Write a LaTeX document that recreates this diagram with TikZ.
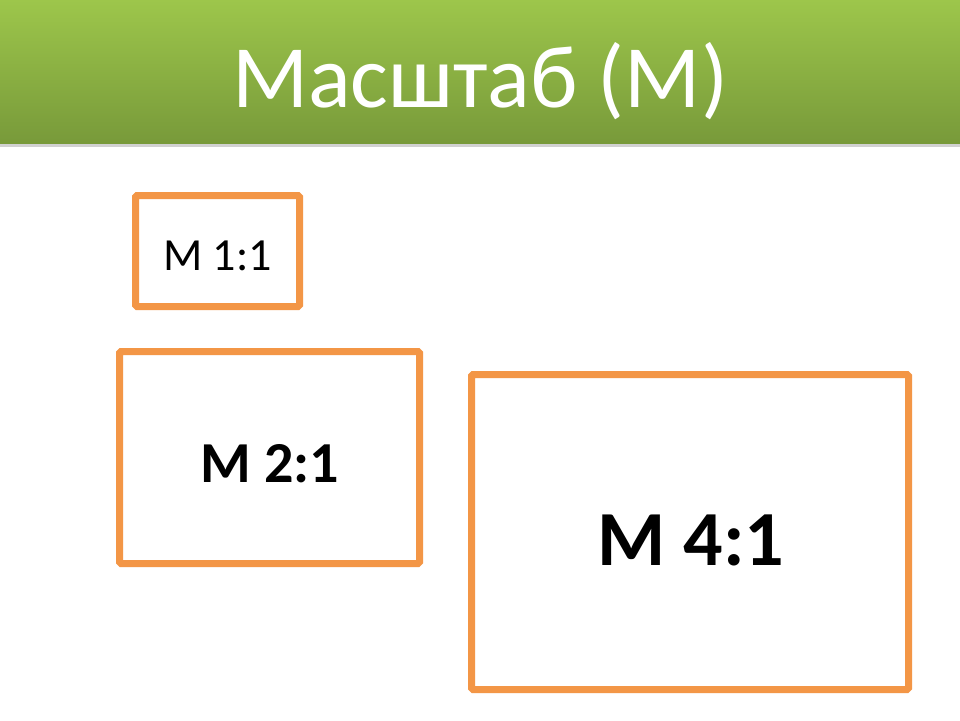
\documentclass[tikz,border=0pt]{standalone}
\usepackage{fontspec}
\setmainfont{Carlito}
\definecolor{barTop}{HTML}{9DC64B}
\definecolor{barBot}{HTML}{789A3A}
\definecolor{frameOrange}{HTML}{F39646}
\begin{document}
\begin{tikzpicture}[x=1pt,y=-1pt,
  frame/.style={draw=frameOrange,line width=7pt,rounded corners=1.5pt},
  lbl/.style={anchor=base,inner sep=0pt,text=black}]
\useasboundingbox (0,0) rectangle (960,720);
\fill[white] (0,0) rectangle (960,720);
% title bar
\fill[black!18] (0,141) rectangle (960,146.5);
\shade[top color=barTop,bottom color=barBot] (0,0) rectangle (960,143);
\node[lbl,text=white,font=\fontsize{89}{100}\selectfont] (title) at (480,107) {Масштаб (М)};
% frames
\draw[frame] (135.5,195.5) rectangle (299.5,306.5);
\draw[frame] (119.5,351.5) rectangle (419.5,563.5);
\draw[frame] (471.5,374.5) rectangle (908.5,689.5);
\node[lbl,font=\fontsize{46}{50}\selectfont] (m1) at (217.5,270) {М 1:1};
\node[lbl,font=\fontsize{58}{64}\selectfont\bfseries] (m2) at (270,482) {М 2:1};
\node[lbl,font=\fontsize{78}{86}\selectfont\bfseries] (m4) at (691,565) {М 4:1};
\end{tikzpicture}
\end{document}
